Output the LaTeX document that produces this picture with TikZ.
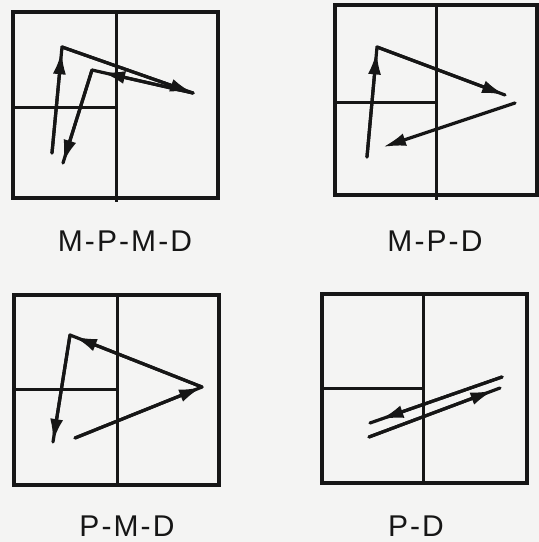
\documentclass[tikz,border=0pt]{standalone}
\usepackage{fontspec}
\setmainfont{Liberation Sans}
\newfontfamily\labfont[LetterSpace=7]{Liberation Sans}
\usetikzlibrary{arrows.meta,calc}
\definecolor{ink}{RGB}{22,22,22}
\definecolor{paper}{RGB}{244,244,243}
\tikzset{
  frame/.style={draw=ink, line width=3.3pt, line cap=rect},
  divider/.style={draw=ink, line width=3pt},
  flow/.style={draw=ink, line width=3.2pt, line cap=round, line join=round},
  tipped/.style={flow, -{Latex[length=23pt,width=13pt]}},
  caption/.style={font=\labfont\fontsize{30}{32}\selectfont, text=ink, anchor=base, inner sep=0pt}
}
\begin{document}
\begin{tikzpicture}[x=1pt,y=-1pt]
\fill[paper] (0,0) rectangle (539,542);
\useasboundingbox (0,0) rectangle (539,542);

% ---------- Panel 1: M-P-M-D ----------
\draw[frame] (13,12) rectangle (218,198);
\draw[divider] (116,12) -- (116,202);
\draw[divider] (13,107) -- (116,107);
\coordinate (a1) at (52,153);
\coordinate (a2) at (62,47);
\coordinate (a3) at (193,93);
\coordinate (a4) at (92,70);
\coordinate (a5) at (63,163);
\draw[tipped] (a1) -- ($(a1)!0.96!(a2)$);
\draw[flow] (a1) -- (a2) -- (a3);
\draw[tipped] (a2) -- (a3);
\draw[flow] (a3) -- (a4) -- (a5);
\draw[tipped] (a3) -- ($(a3)!0.9!(a4)$);
\draw[tipped] (a4) -- (a5);
\node[caption] (t1) at (125,251) {M-P-M-D};

% ---------- Panel 2: M-P-D ----------
\draw[frame] (335,5) rectangle (537,195);
\draw[divider] (436,5) -- (436,200);
\draw[divider] (335,102) -- (436,102);
\coordinate (b1) at (367,157);
\coordinate (b2) at (377,47);
\coordinate (b3) at (505,95);
\coordinate (b4) at (515,103);
\coordinate (b5) at (383,147);
\draw[flow] (b1) -- (b2) -- (b3);
\draw[tipped] (b1) -- ($(b1)!0.96!(b2)$);
\draw[tipped] (b2) -- (b3);
\draw[tipped] (b4) -- (b5);
\node[caption] (t2) at (435,251) {M-P-D};

% ---------- Panel 3: P-M-D ----------
\draw[frame] (14,295) rectangle (219,485);
\draw[divider] (117,295) -- (117,485);
\draw[divider] (14,389) -- (117,389);
\coordinate (c1) at (75,438);
\coordinate (c2) at (202,387);
\coordinate (c3) at (70,335);
\coordinate (c4) at (53,442);
\draw[flow] (c1) -- (c2) -- (c3) -- (c4);
\draw[tipped] (c1) -- (c2);
\draw[tipped] (c2) -- ($(c2)!0.97!(c3)$);
\draw[tipped] (c3) -- (c4);
\node[caption] (t3) at (127,536) {P-M-D};

% ---------- Panel 4: P-D ----------
\draw[frame] (322,294) rectangle (527,483);
\draw[divider] (423,294) -- (423,483);
\draw[divider] (322,388) -- (423,388);
\coordinate (d1) at (502,377);
\coordinate (d2) at (370,423);
\coordinate (d3) at (369,437);
\coordinate (d4) at (500,388);
\draw[flow] (d1) -- (d2);
\draw[tipped] (d1) -- ($(d1)!0.92!(d2)$);
\draw[flow] (d3) -- (d4);
\draw[tipped] (d3) -- ($(d3)!0.95!(d4)$);
\node[caption] (t4) at (416,536) {P-D};
\end{tikzpicture}
\end{document}
